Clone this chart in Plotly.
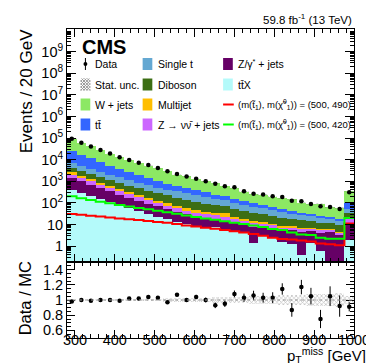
import plotly.graph_objects as go
import numpy as np

# binning: 30 bins of 24 GeV from 280 to 1000 (last one holds overflow)
edges = np.arange(280, 1001, 24)
centers = edges[:-1] + 12

data = [93000, 60000, 41000, 28000, 19000, 13000, 9600, 7200, 5600, 4100,
        2900, 2150, 1650, 1300, 1000, 760, 580, 520, 340, 260,
        240, 200, 186, 125, 117, 88, 69, 64, 52, 310]

# backgrounds, bottom of stack first
ttx = [400, 290, 210, 150, 110, 80, 58, 42, 31, 23, 17, 13, 10, 8.5, 8, 7.5, 5.5, 5, 4.5, 1.4,
       3.3, 2.3, 1.5, 1.3, 0.4, 1.4, 0.6, 0.1, 0.1, 2.0]
zg = [1010, 700, 480, 330, 230, 160, 115, 85, 62, 46, 35, 26, 19, 15, 12.5, 10.5, 9, 7.5, 6.5, 6.5,
      4.5, 4.5, 3.5, 4, 4, 3.5, 3.5, 4.5, 3, 9]
znn = [590, 410, 290, 200, 140, 100, 72, 52, 39, 29, 23, 18, 15, 12, 10, 8, 6.5, 5.3, 4.2, 3.5,
       3, 2.6, 2.2, 1.9, 1.6, 1.4, 1.2, 1.1, 1.0, 7]
multijet = [570, 380, 260, 175, 120, 85, 60, 43, 32, 24, 19, 17, 16, 10, 8, 7, 12, 4, 3, 2.5,
            2, 1.6, 1.3, 1.1, 0.9, 0.8, 0.7, 0.6, 0.5, 1.5]
diboson = [1500, 1170, 900, 700, 540, 420, 330, 260, 200, 160, 125, 100, 80, 65, 53, 44, 36, 30, 25, 21,
           17, 14.5, 12, 10, 8.5, 7.3, 6.2, 5.3, 4.5, 14]
singlet = [2830, 2100, 1580, 1180, 880, 660, 500, 380, 290, 225, 175, 170, 144, 115, 92, 74, 60, 48, 39, 31,
           25, 20, 16.5, 13.5, 11, 9, 7.5, 6, 5, 20]
ttbar = [18800, 11800, 7600, 5000, 3300, 2250, 1550, 1080, 760, 540, 390, 280, 208, 155, 118, 90, 68, 52, 40, 31,
         24, 18.5, 14.5, 11.5, 9, 7, 5.5, 4.5, 3.5, 50]
wjets = [69300, 44650, 30180, 20465, 13680, 9545, 6715, 5058, 3886, 2903, 2166, 1426, 1178, 870, 699, 559, 413, 328, 208, 153,
         154, 131, 110, 101, 65, 54, 67, 39, 39, 236]

sig_490 = [30, 28, 25, 23, 21, 19, 17.5, 16, 14.5, 13, 12, 10.5, 9, 8, 7, 6.3, 5.5, 4.8, 4.2, 3.6,
           3.0, 2.4, 2.1, 2.0, 1.8, 1.6, 1.3, 1.2, 1.1, 11]
sig_420 = [200, 165, 135, 112, 95, 80, 67, 58, 50, 43, 37, 31, 26, 22, 19, 16.5, 14, 12, 10.5, 9,
           7.5, 6.2, 5.5, 4.2, 3.4, 3.2, 2.4, 2.2, 2.2, 20]

ratio = [0.98, 1.0, 0.99, 1.0, 1.0, 0.99, 1.02, 1.02, 1.04, 1.03, 0.97, 1.07,
         1.0, 1.04, 1.0, 0.93, 0.95, 1.08, 1.03, 1.06, 1.03, 1.03, 1.145, 0.87, 1.17, 1.05, 0.75, 1.05, 0.92, 0.91]
ratio_err = [0.004, 0.005, 0.006, 0.007, 0.008, 0.01, 0.011, 0.012, 0.014, 0.016,
             0.019, 0.022, 0.025, 0.028, 0.032, 0.037, 0.042, 0.045, 0.055, 0.062,
             0.065, 0.072, 0.075, 0.09, 0.095, 0.11, 0.12, 0.13, 0.14, 0.06]
stat_unc = [0.005, 0.006, 0.007, 0.008, 0.009, 0.01, 0.012, 0.013, 0.015, 0.017,
            0.02, 0.022, 0.025, 0.028, 0.03, 0.033, 0.036, 0.04, 0.045, 0.05,
            0.052, 0.056, 0.06, 0.065, 0.07, 0.075, 0.08, 0.085, 0.09, 0.05]

procs = [("ttX", ttx, "#B4FAFA"), ("Zgamma", zg, "#660066"), ("Znunu", znn, "#CC66FF"),
         ("Multijet", multijet, "#FFBE00"), ("Diboson", diboson, "#3C6E14"),
         ("Single t", singlet, "#64A8D2"), ("ttbar", ttbar, "#3366FF"), ("W+jets", wjets, "#8CE864")]

FONT = "Liberation Sans, Arial, sans-serif"
W, H = 374, 363
L, R, T, B = 59, 19, 21, 33
pw, ph = W - L - R, H - T - B

def px(x):
    return (x - L) / pw

def py(y):
    return (H - B - y) / ph

fig = go.Figure()

cum = np.cumsum(np.array([p[1] for p in procs], dtype=float), axis=0)
for i in range(len(procs) - 1, -1, -1):
    fig.add_trace(go.Bar(x=centers, y=cum[i], width=24, marker=dict(color=procs[i][2], line=dict(width=0)),
                         opacity=1, showlegend=False, xaxis="x", yaxis="y"))

total = cum[-1]
su = np.array(stat_unc)
fig.add_trace(go.Bar(x=centers, y=2 * total * su, base=total * (1 - su), width=24,
                     marker=dict(color="rgba(0,0,0,0)", line=dict(width=0),
                                 pattern=dict(shape="x", fgcolor="#777", size=3, solidity=0.4)),
                     showlegend=False, xaxis="x", yaxis="y"))

for vals, col in [(sig_490, "#FF0000"), (sig_420, "#00FF00")]:
    fig.add_trace(go.Scatter(x=edges, y=list(vals) + [vals[-1]], mode="lines", line=dict(color=col, width=2, shape="hv"),
                             showlegend=False, xaxis="x", yaxis="y"))

fig.add_trace(go.Scatter(x=centers, y=data, mode="markers", marker=dict(color="black", size=4.5),
                         error_y=dict(type="data", array=np.sqrt(data), color="black", thickness=1, width=0),
                         showlegend=False, xaxis="x", yaxis="y"))

# ratio panel
fig.add_trace(go.Bar(x=centers, y=2 * su, base=1 - su, width=24,
                     marker=dict(color="rgba(0,0,0,0)", line=dict(width=0),
                                 pattern=dict(shape="x", fgcolor="#777", size=3, solidity=0.4)),
                     showlegend=False, xaxis="x2", yaxis="y2"))
fig.add_trace(go.Scatter(x=centers, y=ratio, mode="markers", marker=dict(color="black", size=4.5),
                         error_y=dict(type="data", array=ratio_err, color="black", thickness=1, width=0),
                         showlegend=False, xaxis="x2", yaxis="y2"))

split = py(254)
axcommon = dict(showline=True, linecolor="black", linewidth=1, mirror="allticks", ticks="inside",
                tickcolor="black", showgrid=False, zeroline=False, tickfont=dict(family=FONT, size=14.5, color="black"))
yt = [10 ** k for k in range(0, 10)]
ytt = ["1", "10"] + ["10<sup>%d</sup>" % k for k in range(2, 10)]
yminor = [m * 10 ** k for k in range(-1, 10) for m in range(2, 10)]

fig.update_layout(
    width=W, height=H, margin=dict(l=L, r=R, t=T, b=B),
    paper_bgcolor="white", plot_bgcolor="white", barmode="overlay", bargap=0,
    xaxis=dict(axcommon, domain=[0, 1], anchor="y", range=[280, 1000], tick0=300, dtick=100, ticklen=8,
               showticklabels=False, minor=dict(dtick=20, tick0=280, ticklen=4, ticks="inside", tickcolor="black")),
    yaxis=dict(axcommon, domain=[split, 1], anchor="x", type="log", range=[-0.74, 10.05], tickvals=yt, ticktext=ytt,
               ticklen=9, minor=dict(tickvals=yminor, ticklen=4, ticks="inside", tickcolor="black")),
    xaxis2=dict(axcommon, domain=[0, 1], anchor="y2", range=[280, 1000], tick0=300, dtick=100, ticklen=8,
                ticklabelstandoff=-11,
                minor=dict(dtick=20, tick0=280, ticklen=4, ticks="inside", tickcolor="black")),
    yaxis2=dict(axcommon, domain=[0, split], anchor="x2", range=[0.5, 1.5], tickvals=[0.6, 0.8, 1, 1.2, 1.4],
                ticktext=["0.6", "0.8", "1", "1.2", "1.4"], ticklen=8,
                minor=dict(dtick=0.05, tick0=0.5, ticklen=4, ticks="inside", tickcolor="black")),
    font=dict(family=FONT, color="black"),
)

fig.add_shape(type="line", xref="x2", yref="y2", x0=280, x1=1000, y0=1, y1=1, line=dict(color="#999", width=1, dash="dot"))

ann = []
ann.append(dict(text="Events / 20 GeV", x=px(17), y=py(19), xanchor="center", yanchor="top", textangle=-90,
                font=dict(size=17)))
ann.append(dict(text="Data / MC", x=px(16), y=py(290), xanchor="center", yanchor="middle", textangle=-90,
                font=dict(size=16.5)))
ann.append(dict(text="p<sub>T</sub><sup>miss</sup> [GeV]", x=px(369), y=py(334.5), xanchor="right", yanchor="top",
                font=dict(size=15)))
ann.append(dict(text="59.8 fb<sup>-1</sup> (13 TeV)", x=px(355), y=py(20), xanchor="right", yanchor="bottom",
                font=dict(size=11.5)))
ann.append(dict(text="<b>CMS</b>", x=px(72), y=py(26), xanchor="left", yanchor="top", font=dict(size=20)))

rows = [56, 76.5, 96.5, 116.5]
shapes = []

def box(x0, yc, col):
    shapes.append(dict(type="rect", xref="paper", yref="paper", x0=px(x0), x1=px(x0 + 10), y0=py(yc + 6), y1=py(yc - 6),
                       fillcolor=col, line=dict(width=0)))

def label(x0, yc, txt, size=10.5):
    ann.append(dict(text=txt, x=px(x0), y=py(yc), xanchor="left", yanchor="middle", font=dict(size=size)))

# column 1
shapes.append(dict(type="line", xref="paper", yref="paper", x0=px(78), x1=px(78), y0=py(rows[0] - 6), y1=py(rows[0] + 6),
                   line=dict(color="black", width=1)))
shapes.append(dict(type="circle", xref="paper", yref="paper", x0=px(76), x1=px(80), y0=py(rows[0] + 2), y1=py(rows[0] - 2),
                   fillcolor="black", line=dict(width=0)))
label(86, rows[0], "Data")
hx0, hy0 = 73, rows[1] - 6
path = ""
for k in range(0, 22, 3):
    a = max(0, k - 12); b = min(k, 10)
    path += "M%f,%f L%f,%f " % (px(hx0 + b), py(hy0 + k - b), px(hx0 + a), py(hy0 + k - a))
    path += "M%f,%f L%f,%f " % (px(hx0 + 10 - b), py(hy0 + k - b), px(hx0 + 10 - a), py(hy0 + k - a))
shapes.append(dict(type="path", xref="paper", yref="paper", path=path, line=dict(color="#999", width=1)))
label(86, rows[1], "Stat. unc.")
box(73, rows[2], "#8CE864"); label(86, rows[2], "W + jets")
box(73, rows[3], "#3366FF"); label(86, rows[3], "tt̄")
# column 2
box(137, rows[0], "#64A8D2"); label(151, rows[0], "Single t")
box(137, rows[1], "#3C6E14"); label(151, rows[1], "Diboson")
box(137, rows[2], "#FFBE00"); label(151, rows[2], "Multijet")
box(137, rows[3], "#CC66FF"); label(151, rows[3], "Z → νν̄ + jets")
# column 3
box(220, rows[0], "#660066"); label(233, rows[0], "Z/γ<sup>*</sup> + jets")
box(220, rows[1], "#B4FAFA"); label(233, rows[1], "tt̄X")
for r, col, m in [(rows[2], "#FF0000", "490"), (rows[3], "#00FF00", "420")]:
    shapes.append(dict(type="line", xref="paper", yref="paper", x0=px(220), x1=px(231), y0=py(r), y1=py(r),
                       line=dict(color=col, width=2)))
    label(233, r, "(m(t̃<sub>1</sub>), m(χ̃<sup>0</sup><sub>1</sub>)) = (500, %s)" % m, size=9.5)

for a in ann:
    a.update(xref="paper", yref="paper", showarrow=False)
    a["font"] = dict(family=FONT, color="black", size=a["font"]["size"])
fig.update_layout(annotations=ann, shapes=fig.layout.shapes + tuple(shapes))

fig.write_html("out.html")
